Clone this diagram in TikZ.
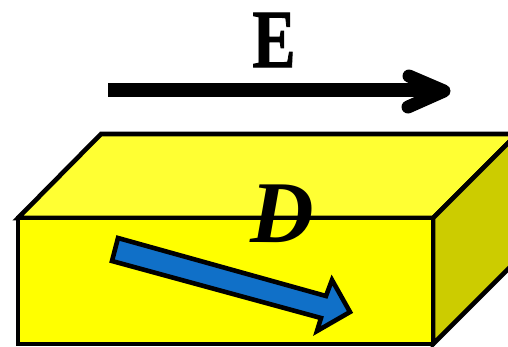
\documentclass[tikz,border=0pt]{standalone}
\usepackage{fontspec}
\setmainfont{Liberation Serif}
\newfontfamily\Efont[FakeBold=1.2]{Liberation Serif Bold}
\definecolor{frontY}{RGB}{255,255,0}
\definecolor{topY}{RGB}{255,255,51}
\definecolor{sideY}{RGB}{204,204,0}
\definecolor{arrowB}{RGB}{16,112,200}
\tikzset{
  face/.style={draw=black,line width=4.6pt,line join=miter},
  bigarrow/.style={draw=black,line width=13pt,line join=round,line cap=round},
  lbl/.style={inner sep=0pt,font=\bfseries}
}
\begin{document}
\begin{tikzpicture}[x=1pt,y=-1pt]
\useasboundingbox (0,0) rectangle (508,346);
\fill[white] (0,0) rectangle (508,346);
\begin{scope}
\clip (0,0) rectangle (508,346);
% box corners
\coordinate (ftl) at (18,218);
\coordinate (ftr) at (433,218);
\coordinate (fbl) at (18,344);
\coordinate (fbr) at (433,344);
\coordinate (btl) at (101,134);
\coordinate (btr) at (517,134);
\coordinate (bbr) at (517,260);
% top face
\draw[face,fill=topY] (ftl) -- (btl) -- (btr) -- (ftr) -- cycle;
% right face
\draw[face,fill=sideY] (ftr) -- (btr) -- (bbr) -- (fbr) -- cycle;
% front face
\draw[face,fill=frontY] (ftl) -- (ftr) -- (fbr) -- (fbl) -- cycle;
\end{scope}
% blue arrow D
\coordinate (d1) at (118,238);
\coordinate (d2) at (326,296);
\coordinate (d3) at (332,280);
\coordinate (d4) at (350,312);
\coordinate (d5) at (317,331);
\coordinate (d6) at (321,318);
\coordinate (d7) at (112,261);
\draw[face,fill=arrowB] (d1) -- (d2) -- (d3) -- (d4) -- (d5) -- (d6) -- (d7) -- cycle;
% E arrow
\coordinate (e0) at (108,90);
\coordinate (e1) at (440,90);
\coordinate (eu) at (409,76);
\coordinate (et) at (444,91);
\coordinate (el) at (408,107);
\draw[black,line width=14pt] (e0) -- (e1);
\draw[bigarrow] (eu) -- (et) -- (el);
% labels
\node[inner sep=0pt,font=\fontsize{83}{83}\Efont\selectfont,xscale=0.78] (E) at (274,40) {E};
\node[lbl,font=\fontsize{88}{88}\bfseries\itshape\selectfont] (D) at (282,214) {D};
\end{tikzpicture}
\end{document}
